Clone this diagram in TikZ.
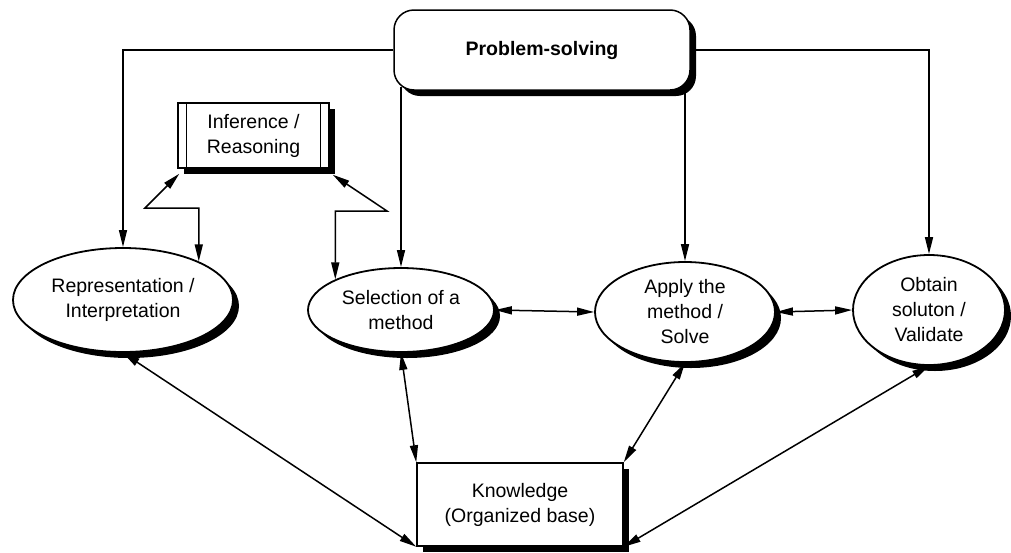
\documentclass[tikz,border=0pt]{standalone}
\usepackage{fontspec}
\setmainfont{Liberation Sans}
\usetikzlibrary{shapes.geometric,arrows.meta,shadows}
\begin{document}
\begin{tikzpicture}[x=1pt,y=-1pt,
  >={Triangle[length=17pt,width=8pt]},
  font=\fontsize{19.5}{25}\selectfont,
  conn/.style={line width=1.5pt},
  shade5/.style={drop shadow={shadow xshift=6pt,shadow yshift=-6pt,fill=black,opacity=1}},
  oval/.style={ellipse,draw,line width=1.8pt,fill=white,inner sep=0pt,align=center,shade5},
  boxed/.style={rectangle,draw,line width=1.5pt,fill=white,inner sep=0pt,align=center,shade5}]
\useasboundingbox (0,0) rectangle (1011,552);

\node[boxed,rounded corners=20pt,minimum width=296pt,minimum height=80pt,
      font=\bfseries\fontsize{19.5}{25}\selectfont] (ps) at (542,50) {Problem-solving};
\node[boxed,minimum width=151pt,minimum height=65pt] (inf) at (253.5,135.5) {Inference /\\Reasoning};
\draw[line width=1.2pt] ([xshift=9pt]inf.north west) -- ([xshift=9pt]inf.south west);
\draw[line width=1.2pt] ([xshift=-9pt]inf.north east) -- ([xshift=-9pt]inf.south east);
\node[boxed,minimum width=206pt,minimum height=83pt] (kn) at (520,504.5) {Knowledge\\(Organized base)};

\node[oval,minimum width=220pt,minimum height=104pt] (rep) at (123,300) {Representation /\\Interpretation};
\node[oval,minimum width=186pt,minimum height=84pt] (sel) at (401,310) {Selection of a\\method};
\node[oval,minimum width=180pt,minimum height=100pt] (app) at (685,312) {Apply the\\method /\\Solve};
\node[oval,minimum width=152pt,minimum height=110pt] (obt) at (929,310) {Obtain\\soluton /\\Validate};

\draw[conn,->] (ps.west) -| (rep.north);
\draw[conn,->] (ps.east) -| (obt.north);
\draw[conn,->] ([yshift=4pt]sel.north |- ps.south) -- (sel.north);
\draw[conn,->] ([yshift=4pt]app.north |- ps.south) -- (app.north);

\coordinate (bl) at (145,208);
\coordinate (br) at (387,211);
\draw[conn,<->] ([shift={(2pt,-5pt)}]inf.south west) -- (bl) -- (rep.27 |- bl) -- (rep.27);
\draw[conn,<->] ([shift={(3pt,-6pt)}]inf.south east) -- (br) -- (sel.155 |- br) -- (sel.155);

\draw[conn,<->] (sel.east) -- (app.west);
\draw[conn,<->] (app.east) -- (obt.west);

\draw[conn,<->] (rep.south) -- (kn.south west);
\draw[conn,<->] (sel.south) -- (kn.north west);
\draw[conn,<->] (app.south) -- (kn.north east);
\draw[conn,<->] (obt.south) -- (kn.south east);
\end{tikzpicture}
\end{document}
